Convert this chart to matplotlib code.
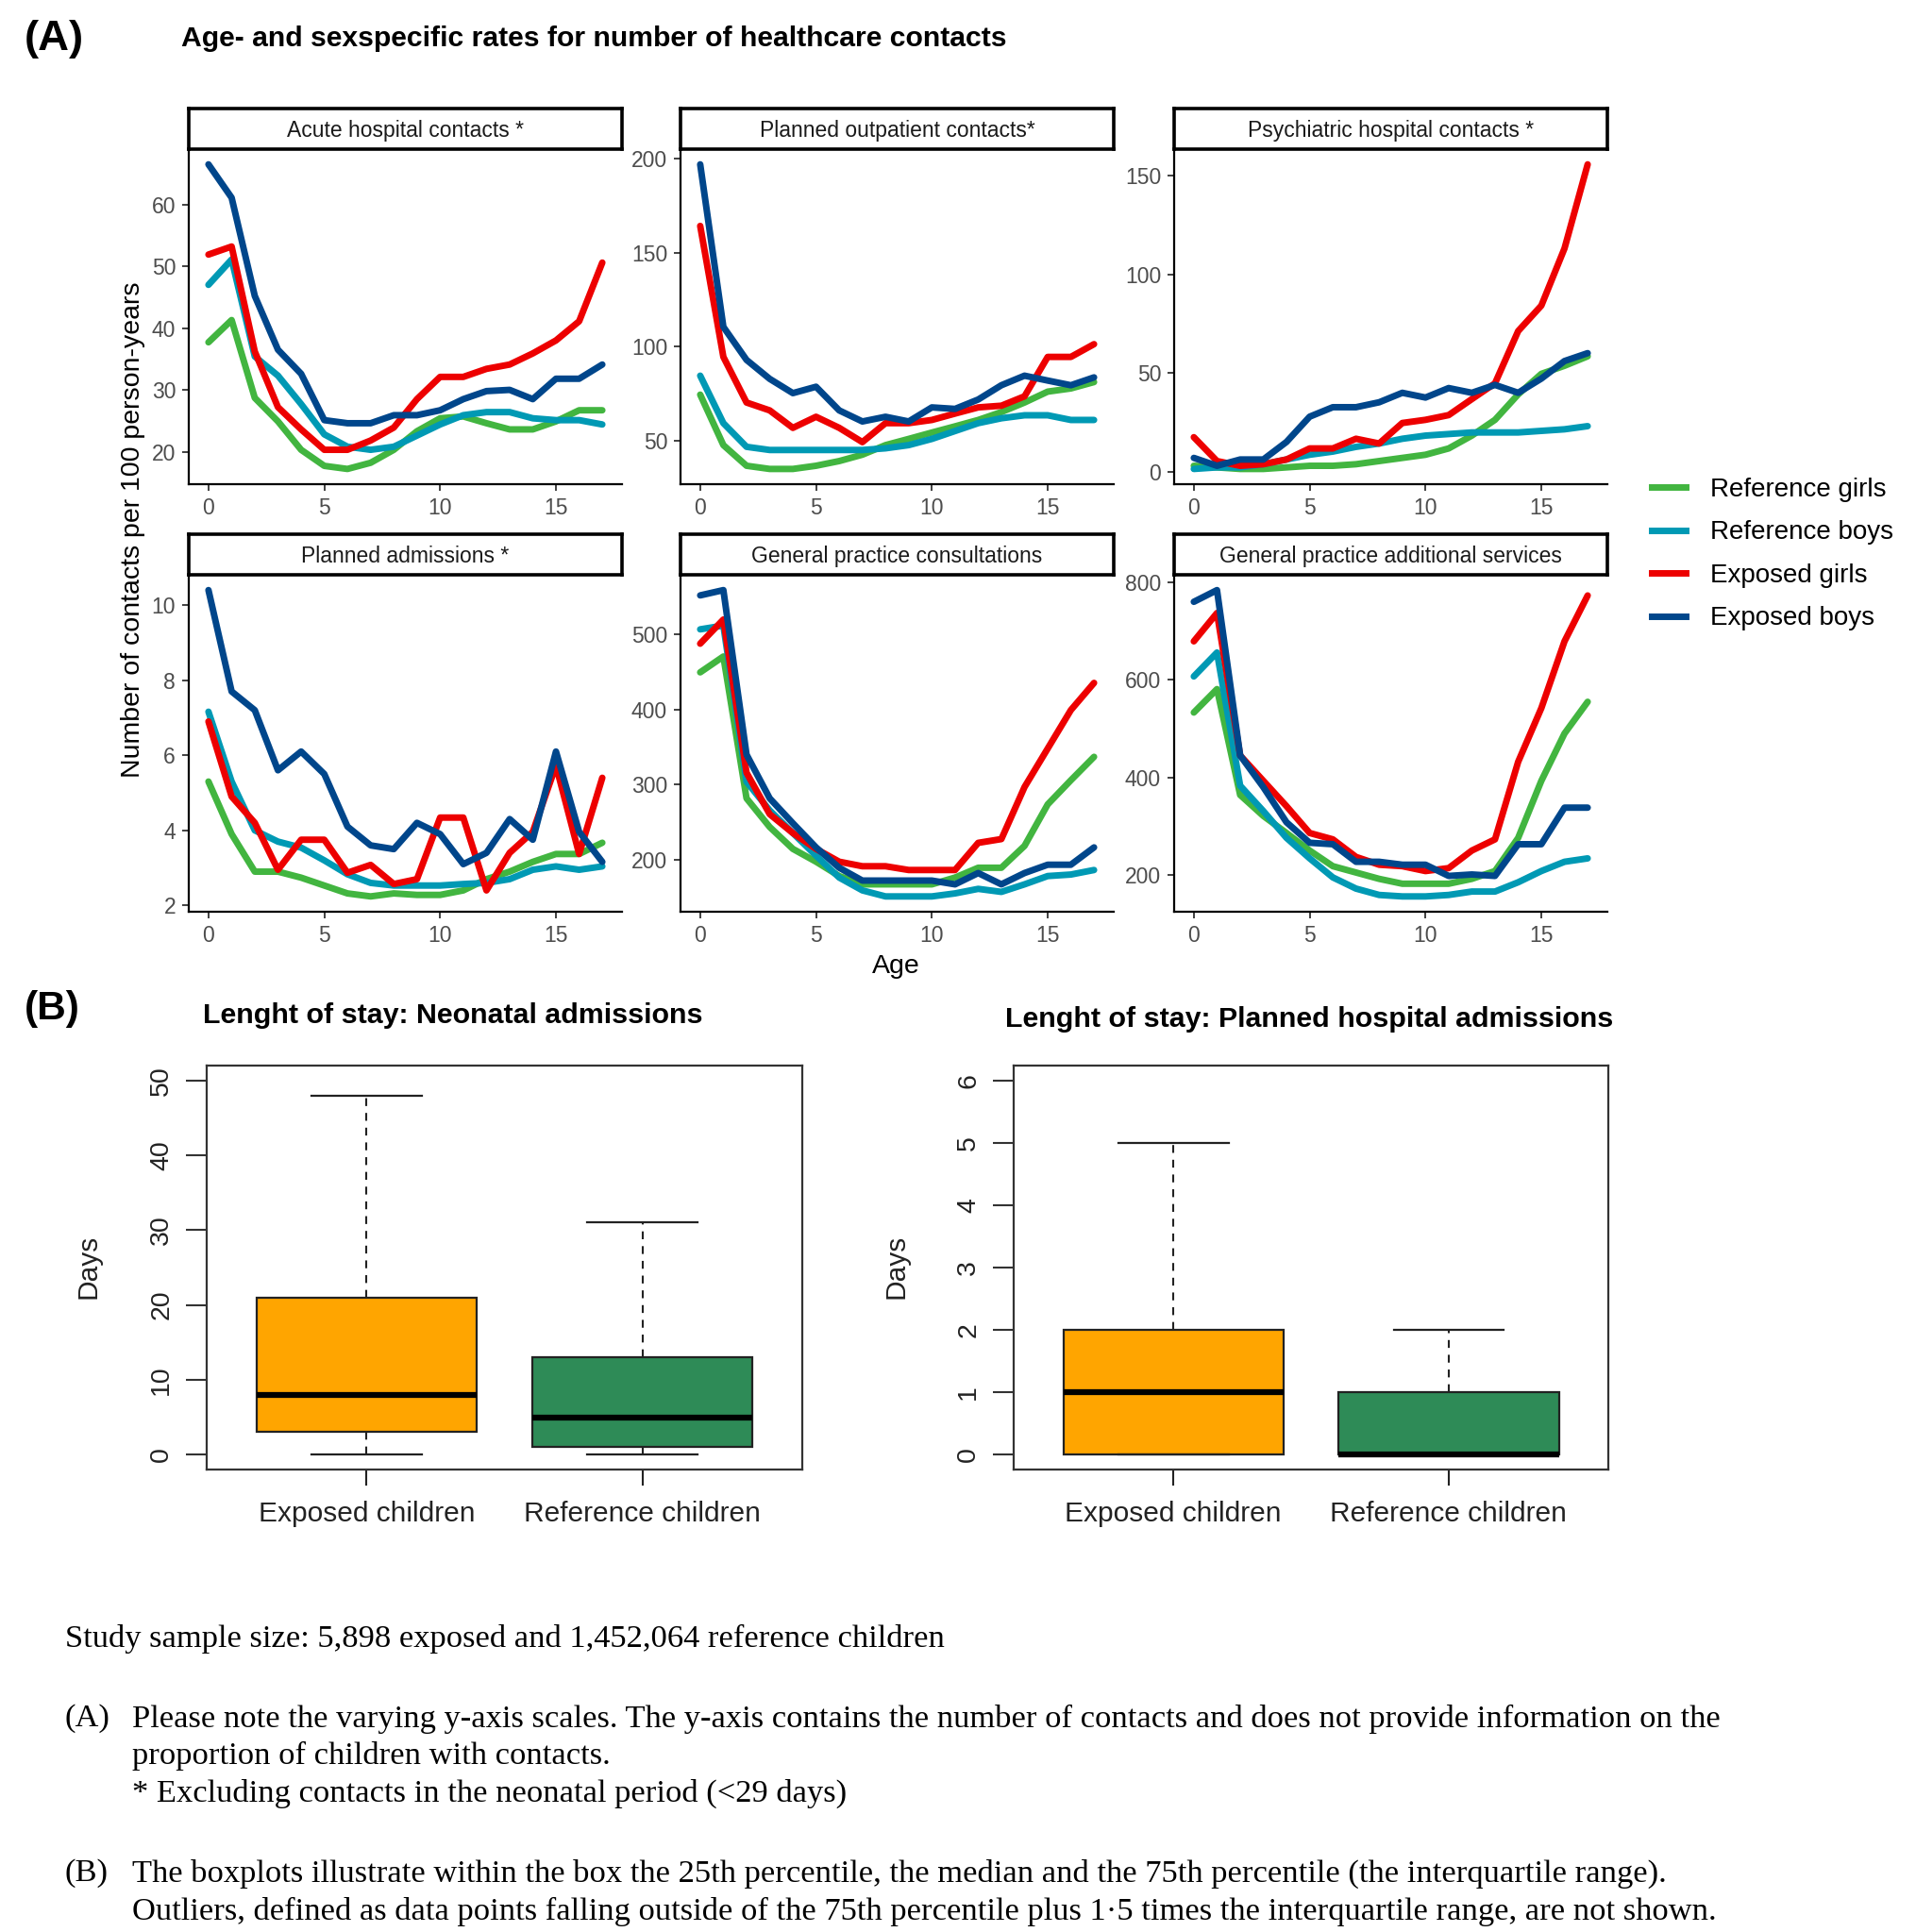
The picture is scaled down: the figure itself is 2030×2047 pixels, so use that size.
import matplotlib
matplotlib.use('Agg')
import matplotlib.pyplot as plt
import numpy as np
from matplotlib.lines import Line2D

# ---------------- data ----------------
ages = list(range(18))
series_names = ["Reference girls", "Reference boys", "Exposed girls", "Exposed boys"]
series_colors = ["#42B540", "#0099B4", "#ED0000", "#00468B"]

acute_ref_girls = [37.7, 41.3, 28.7, 24.9, 20.3, 17.7, 17.2, 18.2, 20.3, 23.3, 25.4, 25.7, 24.6, 23.6, 23.6, 24.9, 26.7, 26.7]
acute_ref_boys = [47.0, 51.1, 35.4, 32.3, 27.7, 22.8, 20.8, 20.3, 20.8, 22.6, 24.4, 25.9, 26.4, 26.4, 25.4, 25.1, 25.1, 24.4]
acute_exp_girls = [51.9, 53.2, 36.2, 27.2, 23.6, 20.3, 20.3, 21.8, 23.9, 28.5, 32.1, 32.1, 33.4, 34.1, 35.9, 38.0, 41.1, 50.6]
acute_exp_boys = [66.5, 61.1, 45.2, 36.5, 32.6, 25.1, 24.6, 24.6, 25.9, 25.9, 26.7, 28.5, 29.8, 30.0, 28.5, 31.8, 31.8, 34.1]

outp_ref_girls = [74.4, 47.5, 36.5, 34.8, 34.8, 36.5, 39.0, 42.4, 47.5, 50.8, 54.2, 57.5, 60.9, 65.1, 70.2, 76.0, 77.7, 81.1]
outp_ref_boys = [84.5, 59.2, 46.6, 44.9, 44.9, 44.9, 44.9, 44.9, 45.8, 47.5, 50.8, 55.0, 59.2, 61.8, 63.4, 63.4, 60.9, 60.9]
outp_exp_girls = [164.3, 94.5, 70.2, 66.0, 56.7, 62.6, 56.7, 49.1, 59.2, 59.2, 60.9, 64.3, 67.6, 68.5, 73.5, 94.5, 94.5, 101.3]
outp_exp_boys = [197.1, 110.5, 92.9, 82.8, 75.2, 78.6, 66.0, 60.1, 62.6, 60.1, 67.6, 66.8, 71.8, 79.4, 84.5, 81.9, 79.4, 83.6]

psych_ref_girls = [2.9, 2.1, 1.3, 1.3, 2.1, 2.9, 2.9, 3.7, 5.3, 6.9, 8.5, 11.7, 18.2, 26.2, 39.1, 49.5, 53.6, 58.4]
psych_ref_boys = [1.3, 2.1, 2.1, 3.7, 6.1, 8.5, 10.1, 12.5, 14.2, 16.6, 18.2, 19.0, 19.8, 19.8, 19.8, 20.6, 21.4, 23.0]
psych_exp_girls = [17.4, 5.3, 2.9, 3.7, 6.1, 11.7, 11.7, 16.6, 14.2, 24.6, 26.2, 28.6, 36.7, 44.7, 71.2, 84.1, 113.1, 155.7]
psych_exp_boys = [6.9, 2.9, 6.1, 6.1, 15.0, 27.8, 32.6, 32.6, 35.1, 39.9, 37.5, 42.3, 39.9, 43.9, 39.9, 47.1, 56.0, 60.0]

adm_ref_girls = [5.3, 3.9, 2.9, 2.9, 2.74, 2.53, 2.32, 2.24, 2.32, 2.28, 2.28, 2.4, 2.7, 2.9, 3.16, 3.37, 3.37, 3.67]
adm_ref_boys = [7.16, 5.3, 4.0, 3.7, 3.54, 3.2, 2.83, 2.6, 2.53, 2.53, 2.53, 2.57, 2.6, 2.7, 2.95, 3.04, 2.95, 3.04]
adm_exp_girls = [6.9, 4.9, 4.2, 2.95, 3.75, 3.75, 2.87, 3.08, 2.57, 2.7, 4.34, 4.34, 2.4, 3.4, 3.96, 5.73, 3.37, 5.4]
adm_exp_boys = [10.4, 7.7, 7.2, 5.6, 6.1, 5.5, 4.1, 3.6, 3.5, 4.2, 3.9, 3.1, 3.4, 4.3, 3.75, 6.1, 3.96, 3.16]

gp_ref_girls = [449, 470, 282, 244, 215, 198, 179, 168, 168, 168, 168, 177, 190, 190, 219, 274, 306, 337]
gp_ref_boys = [506, 511, 304, 266, 236, 206, 177, 160, 152, 152, 152, 156, 162, 158, 168, 179, 181, 187]
gp_exp_girls = [487, 519, 316, 261, 236, 215, 198, 192, 192, 187, 187, 187, 223, 228, 297, 348, 399, 435]
gp_exp_boys = [551, 558, 340, 282, 249, 217, 190, 173, 173, 173, 173, 168, 183, 168, 183, 194, 194, 217]

gpa_ref_girls = [533, 581, 364, 321, 286, 250, 218, 205, 192, 182, 182, 182, 192, 208, 276, 393, 490, 555]
gpa_ref_boys = [607, 656, 383, 331, 276, 234, 195, 172, 159, 156, 156, 159, 166, 166, 185, 208, 227, 234]
gpa_exp_girls = [679, 737, 445, 393, 341, 286, 273, 237, 221, 218, 208, 214, 250, 273, 432, 542, 679, 773]
gpa_exp_boys = [760, 784, 445, 380, 308, 266, 263, 227, 227, 221, 221, 198, 201, 198, 263, 263, 338, 338]

panel_titles = ["Acute hospital contacts *", "Planned outpatient contacts*", "Psychiatric hospital contacts *",
                "Planned admissions *", "General practice consultations", "General practice additional services"]
panel_data = [
    [acute_ref_girls, acute_ref_boys, acute_exp_girls, acute_exp_boys],
    [outp_ref_girls, outp_ref_boys, outp_exp_girls, outp_exp_boys],
    [psych_ref_girls, psych_ref_boys, psych_exp_girls, psych_exp_boys],
    [adm_ref_girls, adm_ref_boys, adm_exp_girls, adm_exp_boys],
    [gp_ref_girls, gp_ref_boys, gp_exp_girls, gp_exp_boys],
    [gpa_ref_girls, gpa_ref_boys, gpa_exp_girls, gpa_exp_boys],
]
panel_yticks = [[20, 30, 40, 50, 60], [50, 100, 150, 200], [0, 50, 100, 150],
                [2, 4, 6, 8, 10], [200, 300, 400, 500], [200, 400, 600, 800]]
x_ticks = [0, 5, 10, 15]

box_groups = ["Exposed children", "Reference children"]
box_colors = ["#FFA500", "#2E8B57"]
# whislo, q1, median, q3, whishi
neonatal_exposed = [0, 3, 8, 21, 48]
neonatal_reference = [0, 1, 5, 13, 31]
planned_exposed = [0, 0, 1, 2, 5]
planned_reference = [0, 0, 0, 1, 2]

# ---------------- figure ----------------
W, H = 2031, 2047
plt.rcParams['font.family'] = ['Liberation Sans', 'DejaVu Sans']
fig = plt.figure(figsize=(W / 100, H / 100), dpi=100)
renderer = fig.canvas.get_renderer()


def add_ax(x0, y0, x1, y1):
    return fig.add_axes([x0 / W, 1 - y1 / H, (x1 - x0) / W, (y1 - y0) / H])


def ftext(x, y, s, **kw):
    return fig.text(x / W, 1 - y / H, s, **kw)


def fit_text(x, y, s, target_w, base=20, **kw):
    t = ftext(x, y, s, fontsize=base, **kw)
    bb = t.get_window_extent(renderer=renderer)
    t.set_fontsize(base * target_w / bb.width)
    return t


# ---------------- panel A ----------------
col_x = [200, 721, 1244]
col_w = 459
rows = [(115, 158, 513), (566, 609, 966)]

for i, (title, data) in enumerate(zip(panel_titles, panel_data)):
    r, c = divmod(i, 3)
    st, pt, pb = rows[r]
    x0 = col_x[c]
    ax = add_ax(x0, pt, x0 + col_w, pb)
    for vals, col in zip(data, series_colors):
        ax.plot(ages, vals, color=col, lw=5.0, solid_joinstyle='round', solid_capstyle='round')
    allv = np.concatenate([np.asarray(v, float) for v in data])
    lo, hi = allv.min(), allv.max()
    pad = 0.05 * (hi - lo)
    ax.set_ylim(lo - pad, hi + pad)
    ax.set_xlim(-0.85, 17.85)
    ax.set_xticks(x_ticks)
    ax.set_yticks(panel_yticks[i])
    for s in ['top', 'right']:
        ax.spines[s].set_visible(False)
    for s in ['left', 'bottom']:
        ax.spines[s].set_linewidth(1.6)
        ax.spines[s].set_color('black')
    ax.tick_params(length=5, width=1.3, color='#333333', labelsize=16.5,
                   labelcolor='#4D4D4D', pad=5)
    # strip
    sax = add_ax(x0, st, x0 + col_w, pt)
    sax.set_xticks([])
    sax.set_yticks([])
    for s in sax.spines.values():
        s.set_linewidth(2.6)
        s.set_color('black')
    sax.text(0.5, 0.45, title, transform=sax.transAxes, ha='center', va='center',
             fontsize=16.5, color='#1A1A1A')

ftext(949, 1024, "Age", fontsize=20.5, ha='center', va='center')
ftext(141, 561, "Number of contacts per 100 person-years", fontsize=20.5, rotation=90,
      ha='center', va='center')

handles = [Line2D([0], [0], color=c, lw=5.0) for c in series_colors]
fig.legend(handles, series_names, loc='upper left', bbox_to_anchor=(1750 / W, 1 - 506 / H),
           frameon=False, fontsize=20, handlelength=1.3, handletextpad=0.95,
           labelspacing=0.7, borderpad=0, borderaxespad=0)

fit_text(26, 41, "(A)", 63, base=30, fontweight='bold', va='center')
fit_text(192, 41, "Age- and sexspecific rates for number of healthcare contacts", 875,
         base=20, fontweight='bold', va='center')

# ---------------- panel B ----------------
fit_text(26, 1069, "(B)", 59, base=30, fontweight='bold', va='center')
t2 = fit_text(1065, 1080, "Lenght of stay: Planned hospital admissions", 643, base=20,
              fontweight='bold', va='center')
ftext(215, 1076, "Lenght of stay: Neonatal admissions", fontsize=t2.get_fontsize(),
      fontweight='bold', va='center')


def make_box(x0, x1, stats_pair, ylim, yticks, days_x):
    ax = add_ax(x0, 1129, x1, 1557)
    stats = []
    for vals, lab in zip(stats_pair, box_groups):
        stats.append(dict(whislo=vals[0], q1=vals[1], med=vals[2], q3=vals[3],
                          whishi=vals[4], label=lab))
    bp = ax.bxp(stats, positions=[1, 2], widths=0.8, patch_artist=True,
                showfliers=False, capwidths=0.4,
                boxprops=dict(edgecolor='#222222', linewidth=1.6),
                medianprops=dict(color='black', linewidth=4.5, solid_capstyle='butt'),
                whiskerprops=dict(color='#222222', linewidth=1.5, linestyle=(0, (4, 3.5))),
                capprops=dict(color='#222222', linewidth=1.6))
    for patch, col in zip(bp['boxes'], box_colors):
        patch.set_facecolor(col)
    ax.set_xlim(0.42, 2.58)
    ax.set_ylim(ylim[0] - 0.04 * (ylim[1] - ylim[0]), ylim[1] + 0.04 * (ylim[1] - ylim[0]))
    ax.set_yticks(yticks)
    ax.set_yticklabels([str(v) for v in yticks], rotation=90, va='center')
    for s in ax.spines.values():
        s.set_linewidth(1.6)
        s.set_color('#333333')
    ax.tick_params(axis='y', length=16, width=1.5, color='#333333', labelsize=20.5,
                   labelcolor='#222222', pad=9)
    ax.tick_params(axis='x', length=12, width=1.5, color='#222222', labelsize=21.5,
                   labelcolor='#222222', pad=12)
    ftext(days_x, 1342, "Days", fontsize=21.5, rotation=90, ha='center', va='center',
          color='#222222')
    return ax


make_box(219, 850, [neonatal_exposed, neonatal_reference], (0, 50), [0, 10, 20, 30, 40, 50], 94)
make_box(1074, 1704, [planned_exposed, planned_reference], (0, 6), [0, 1, 2, 3, 4, 5, 6], 950)

# ---------------- footnotes ----------------
serif = ['Liberation Serif', 'DejaVu Serif']
tA = fit_text(140, 1821, "Please note the varying y-axis scales. The y-axis contains the number of contacts "
              "and does not provide information on the", 1672, base=22, family=serif, va='center')
fs = tA.get_fontsize()
ftext(69, 1736, "Study sample size: 5,898 exposed and 1,452,064 reference children", fontsize=fs,
      family=serif, va='center')
ftext(69, 1821, "(A)", fontsize=fs, family=serif, va='center')
ftext(140, 1860, "proportion of children with contacts.", fontsize=fs, family=serif, va='center')
ftext(140, 1900, "* Excluding contacts in the neonatal period (<29 days)", fontsize=fs, family=serif,
      va='center')
ftext(69, 1985, "(B)", fontsize=fs, family=serif, va='center')
ftext(140, 1985, "The boxplots illustrate within the box the 25th percentile, the median and the 75th "
      "percentile (the interquartile range).", fontsize=fs, family=serif, va='center')
ftext(140, 2025, "Outliers, defined as data points falling outside of the 75th percentile plus 1\u00b75 "
      "times the interquartile range, are not shown.", fontsize=fs, family=serif, va='center')

fig.savefig("out.png", dpi=100)
